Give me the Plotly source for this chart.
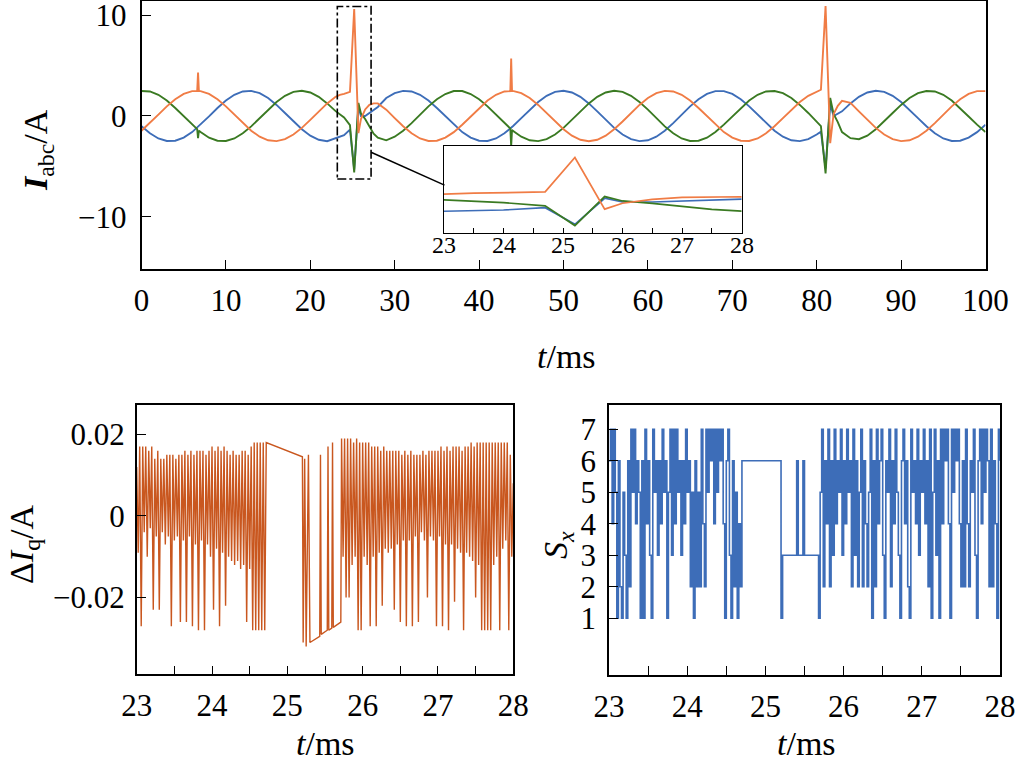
import numpy as np
import plotly.graph_objects as go

# ---------------- top panel: three-phase currents (A) ----------------
t_main = (list(range(0, 7)) + [6.6, 6.7, 6.8] + list(range(7, 24)) +
          [23.5, 24, 24.7, 25.2, 25.7, 26, 26.5, 27, 27.5, 28] +
          list(range(29, 44)) + [43.7, 43.8, 43.9] + list(range(44, 81)) +
          [80.5, 81.05, 81.6, 82, 82.5] + list(range(83, 101)))

i_orange = ([-1.46, -0.71, 0.13, 0.95, 1.66, 2.19, 2.46] +
            [2.48, 4.3, 2.47] +
            [2.46, 2.19, 1.66, 0.95, 0.13, -0.71, -1.46, -2.05, -2.41, -2.49, -2.30, -1.84, -1.18, -0.38, 0.46, 1.25, 1.9] +
            [2.1, 2.2, 2.4, 10.6, -1.7, -0.3, 0.65, 1.1, 1.25, 1.25] +
            [0.63, -0.21, -1.02, -1.72, -2.23, -2.48, -2.45, -2.14, -1.60, -0.87, -0.04, 0.79, 1.53, 2.10, 2.43] +
            [2.47, 5.7, 2.48] +
            [2.49, 2.26, 1.78, 1.10, 0.30, -0.55, -1.32, -1.95, -2.36, -2.50, -2.36, -1.95, -1.32, -0.55, 0.30, 1.10,
             1.78, 2.26, 2.49, 2.43, 2.10, 1.53, 0.79, -0.04, -0.87, -1.60, -2.14, -2.45, -2.48, -2.23, -1.72, -1.02,
             -0.21, 0.63, 1.39, 2.00, 2.39] +
            [2.6, 10.9, -2.7, 0.2, 1.0] +
            [1.5, 1.3, 0.46, -0.38, -1.18, -1.84, -2.30, -2.49, -2.41, -2.05, -1.46, -0.71, 0.13, 0.95, 1.66, 2.19, 2.46, 2.46])

i_blue = ([-1.02, -1.72, -2.23, -2.48, -2.45, -2.14, -1.60] +
          [-1.16, -1.08, -1.01] +
          [-0.87, -0.04, 0.79, 1.53, 2.10, 2.43, 2.49, 2.26, 1.78, 1.10, 0.30, -0.55, -1.32, -1.95, -2.36, -2.50, -2.2] +
          [-2.05, -1.9, -1.35, -5.3, 0.9, 0.0, 0.0, 0.3, 0.65, 0.9] +
          [1.78, 2.26, 2.49, 2.43, 2.10, 1.53, 0.79, -0.04, -0.87, -1.60, -2.14, -2.45, -2.48, -2.23, -1.72] +
          [-1.23, -1.16, -1.09] +
          [-1.02, -0.21, 0.63, 1.39, 2.00, 2.39, 2.50, 2.33, 1.90, 1.25, 0.46, -0.38, -1.18, -1.84, -2.30, -2.49,
           -2.41, -2.05, -1.46, -0.71, 0.13, 0.95, 1.66, 2.19, 2.46, 2.46, 2.19, 1.66, 0.95, 0.13, -0.71, -1.46,
           -2.05, -2.41, -2.49, -2.30, -1.84] +
          [-1.55, -5.2, 1.2, 0.0, 0.2] +
          [0.46, 1.25, 1.90, 2.33, 2.50, 2.39, 2.00, 1.39, 0.63, -0.21, -1.02, -1.72, -2.23, -2.48, -2.45, -2.14, -1.60, -0.87])

i_green = ([2.48, 2.43, 2.10, 1.53, 0.79, -0.05, -0.86] +
           [-1.30, -2.2, -1.45] +
           [-1.59, -2.15, -2.45, -2.48, -2.23, -1.72, -1.03, -0.21, 0.63, 1.39, 2.00, 2.39, 2.50, 2.33, 1.90, 1.25, 0.48] +
           [0.15, -0.15, -0.9, -5.6, 1.3, 0.25, -0.3, -1.1, -1.75, -2.15] +
           [-2.41, -2.05, -1.47, -0.71, 0.13, 0.95, 1.66, 2.18, 2.47, 2.47, 2.18, 1.66, 0.95, 0.13, -0.71] +
           [-1.24, -3.0, -1.38] +
           [-1.47, -2.05, -2.41, -2.49, -2.30, -1.84, -1.18, -0.38, 0.46, 1.25, 1.90, 2.33, 2.50, 2.39, 2.00, 1.39,
            0.63, -0.21, -1.03, -1.72, -2.23, -2.48, -2.45, -2.15, -1.59, -0.86, -0.05, 0.79, 1.53, 2.10, 2.43, 2.48,
            2.26, 1.78, 1.10, 0.30, -0.55] +
           [-1.0, -5.7, 1.8, 0.2, -0.6] +
           [-1.6, -2.2, -2.3, -1.95, -1.32, -0.55, 0.30, 1.10, 1.78, 2.26, 2.48, 2.43, 2.10, 1.53, 0.79, -0.05, -0.86, -1.59])

main_xticks = [0, 10, 20, 30, 40, 50, 60, 70, 80, 90, 100]
main_yticks = [-10, 0, 10]
main_yticktext = ["\u221210", "0", "10"]

# ---------------- bottom-left: delta Iq (A) ----------------
diq_a = [0.012, -0.009, 0.017, -0.027, 0.017, -0.004, 0.017, -0.010, 0.016, -0.003, 0.017, -0.023,
         0.014, -0.005, 0.016, -0.023, 0.014, -0.004, 0.014, -0.007, 0.015, -0.005, 0.015, -0.027,
         0.015, -0.006, 0.014, -0.005, 0.015, -0.026, 0.015, -0.006, 0.016, -0.026, 0.015, -0.005,
         0.016, -0.027, 0.015, -0.007, 0.016, -0.028, 0.016, -0.006, 0.016, -0.028, 0.015, -0.007,
         0.016, -0.010, 0.017, -0.023, 0.016, -0.008, 0.017, -0.027, 0.016, -0.009, 0.017, -0.022,
         0.016, -0.010, 0.015, -0.011, 0.016, -0.012, 0.015, -0.011, 0.015, -0.013, 0.016, -0.012,
         0.016, -0.026, 0.015, -0.013, 0.017, -0.028, 0.018, -0.028, 0.018, -0.028, 0.018, -0.028,
         0.018, -0.028]
diq_mid_t = [24.72, 25.20, 25.21, 25.23, 25.25, 25.28, 25.30, 25.43, 25.44, 25.45, 25.53, 25.54, 25.55,
             25.59, 25.60, 25.61, 25.71]
diq_mid = [0.018, 0.0145, -0.031, 0.014, -0.032, 0.015, -0.031, -0.0295, 0.015, -0.029, -0.028, 0.017,
           -0.028, -0.0275, 0.018, -0.0273, -0.026]
diq_c = [0.019, -0.010, 0.019, -0.020, 0.019, -0.020, 0.019, -0.012, 0.018, -0.010, 0.019, -0.028,
         0.018, -0.028, 0.018, -0.010, 0.018, -0.012, 0.018, -0.027, 0.017, -0.010, 0.017, -0.027,
         0.017, -0.009, 0.016, -0.022, 0.017, -0.008, 0.016, -0.009, 0.016, -0.008, 0.016, -0.023,
         0.016, -0.007, 0.016, -0.026, 0.015, -0.006, 0.016, -0.027, 0.015, -0.006, 0.016, -0.027,
         0.015, -0.005, 0.015, -0.026, 0.015, -0.004, 0.016, -0.006, 0.015, -0.020, 0.016, -0.005,
         0.016, -0.006, 0.016, -0.027, 0.016, -0.005, 0.017, -0.027, 0.016, -0.007, 0.017, -0.028,
         0.016, -0.007, 0.017, -0.021, 0.017, -0.008, 0.017, -0.009, 0.016, -0.028, 0.017, -0.009,
         0.017, -0.010, 0.018, -0.011, 0.017, -0.020, 0.018, -0.012, 0.018, -0.028, 0.018, -0.028,
         0.018, -0.028, 0.018, -0.028, 0.018, -0.012, 0.018, -0.010, 0.018, -0.028, 0.018, -0.008,
         0.018, -0.006, 0.018, -0.028, 0.015, -0.010, 0.008]

# ---------------- bottom-right: switching state Sx ----------------
sx_a = [6, 7, 4, 7, 5, 1, 6, 2, 1, 5, 3, 1, 6, 2, 7, 5, 7, 4, 6, 5,
        1, 6, 1, 7, 4, 6, 3, 1, 7, 5, 6, 3, 6, 4, 7, 5, 6, 1, 5, 7,
        3, 7, 4, 7, 5, 6, 3, 6, 4, 7, 5, 6, 2, 5, 1, 6, 2, 5, 2, 7,
        4, 2, 7, 5, 7, 6, 7, 4, 7, 5, 7, 6, 7, 4, 1, 6, 7, 3, 1, 6,
        2, 5, 1, 4, 2]
sx_mid_t = [24.70, 25.20, 25.22, 25.40, 25.42, 25.48, 25.50, 25.68]
sx_mid = [6, 1, 3, 6, 3, 6, 3, 1]
sx_c = [5, 7, 2, 6, 4, 7, 2, 6, 3, 7, 4, 6, 5, 7, 3, 6, 4, 7, 5, 6,
        2, 7, 3, 6, 2, 5, 7, 2, 6, 4, 2, 5, 7, 1, 6, 2, 7, 4, 6, 7,
        3, 1, 6, 5, 7, 2, 6, 4, 7, 5, 3, 1, 6, 7, 4, 6, 2, 1, 7, 5,
        6, 4, 7, 3, 6, 5, 7, 4, 6, 2, 7, 1, 5, 7, 3, 6, 1, 7, 4, 7,
        6, 7, 4, 1, 7, 5, 7, 6, 7, 4, 2, 6, 2, 7, 4, 2, 6, 5, 7, 3,
        1, 6, 7, 4, 7, 5, 7, 6, 2, 7, 2, 6, 4, 1, 7, 6]

zoom_ticks = [23, 23.5, 24, 24.5, 25, 25.5, 26, 26.5, 27, 27.5, 28]
zoom_ticktext = ["23", "", "24", "", "25", "", "26", "", "27", "", "28"]
inset_labels = [23, 24, 25, 26, 27, 28]

# sample clocks (20 us sampling)
dt = 0.02
diq_t = (list(np.round(23.0 + dt * np.arange(len(diq_a)), 3)) + diq_mid_t +
         list(np.round(25.72 + dt * np.arange(len(diq_c)), 3)))
diq_v = diq_a + diq_mid + diq_c
sx_t = (list(np.round(23.0 + dt * np.arange(len(sx_a)), 3)) + sx_mid_t +
        list(np.round(25.70 + dt * np.arange(len(sx_c)), 3)))
sx_v = sx_a + sx_mid + sx_c

# ---------------- styling ----------------
FONT = "Liberation Serif"
C_OR, C_BL, C_GR = "#F07C45", "#3D6DB8", "#3A7A22"
C_DIQ, C_SX = "#C9571F", "#3D6DB8"
W, H = 1016, 759
TICK = 31


def px_x(p):
    return p / W


def px_y(p):
    return 1 - p / H


fig = go.Figure()

for vals, col in [(i_blue, C_BL), (i_green, C_GR), (i_orange, C_OR)]:
    fig.add_trace(go.Scatter(x=t_main, y=vals, mode="lines", line=dict(color=col, width=1.9),
                             xaxis="x", yaxis="y", showlegend=False, hoverinfo="skip"))

INSET_Y = [-7.3, 13.4]
fig.add_trace(go.Scatter(x=[23, 28, 28, 23, 23], y=[INSET_Y[0], INSET_Y[0], INSET_Y[1], INSET_Y[1], INSET_Y[0]],
                         mode="lines", fill="toself", fillcolor="white", line=dict(width=0),
                         xaxis="x2", yaxis="y2", showlegend=False, hoverinfo="skip"))
for vals, col in [(i_blue, C_BL), (i_green, C_GR), (i_orange, C_OR)]:
    fig.add_trace(go.Scatter(x=t_main, y=vals, mode="lines", line=dict(color=col, width=1.7),
                             xaxis="x2", yaxis="y2", showlegend=False, hoverinfo="skip"))

fig.add_trace(go.Scatter(x=diq_t, y=diq_v, mode="lines", line=dict(color=C_DIQ, width=1.4),
                         xaxis="x3", yaxis="y3", showlegend=False, hoverinfo="skip"))
fig.add_trace(go.Scatter(x=sx_t, y=sx_v, mode="lines", line=dict(color=C_SX, width=1.6, shape="hv"),
                         xaxis="x4", yaxis="y4", showlegend=False, hoverinfo="skip"))

axis_common = dict(showline=True, mirror=True, linecolor="black", linewidth=1.6, showgrid=False,
                   zeroline=False, ticks="inside", tickcolor="black", tickwidth=1.4, automargin=False,
                   ticklabeloverflow="allow")

fig.update_layout(
    width=W, height=H, margin=dict(l=0, r=0, t=0, b=0, autoexpand=False),
    paper_bgcolor="white", plot_bgcolor="white",
    font=dict(family=FONT, color="black"),
    xaxis=dict(axis_common, domain=[px_x(141.5), px_x(985.5)], range=[0, 100], tickvals=main_xticks,
               ticklen=10, tickfont=dict(size=TICK), ticklabelstandoff=3, anchor="y"),
    yaxis=dict(axis_common, domain=[px_y(269.3), px_y(1)], range=[-15.2, 11.4], tickvals=main_yticks,
               ticktext=main_yticktext, ticklen=10, tickfont=dict(size=TICK), ticklabelstandoff=7, anchor="x"),
    xaxis2=dict(axis_common, domain=[px_x(444), px_x(741.5)], range=[23, 28], tickvals=zoom_ticks,
                ticklen=5, tickwidth=1.2, linewidth=1.4, showticklabels=False, anchor="y2"),
    yaxis2=dict(axis_common, domain=[px_y(232.7), px_y(145.7)], range=INSET_Y, ticks="", linewidth=1.4,
                showticklabels=False, anchor="x2"),
    xaxis3=dict(axis_common, domain=[px_x(136.7), px_x(513.3)], range=[23, 28], tickvals=zoom_ticks,
                ticktext=zoom_ticktext, ticklen=9, tickfont=dict(size=TICK), ticklabelstandoff=3, anchor="y3"),
    yaxis3=dict(axis_common, domain=[px_y(674.3), px_y(405)], range=[-0.0388, 0.0272],
                tickvals=[-0.02, 0, 0.02], ticktext=["\u22120.02", "0", "0.02"], ticklen=9,
                tickfont=dict(size=TICK), ticklabelstandoff=4, anchor="x3"),
    xaxis4=dict(axis_common, domain=[px_x(609), px_x(1000)], range=[23, 28], tickvals=zoom_ticks,
                ticktext=zoom_ticktext, ticklen=9, tickfont=dict(size=TICK), ticklabelstandoff=3, anchor="y4"),
    yaxis4=dict(axis_common, domain=[px_y(675), px_y(405)], range=[-0.8, 7.77],
                tickvals=[1, 2, 3, 4, 5, 6, 7], ticklen=9, tickfont=dict(size=TICK), ticklabelstandoff=5,
                anchor="x4"),
)

# inset tick labels (placed just under the inset frame)
for v in inset_labels:
    fig.add_annotation(x=v, xref="x2", y=px_y(245), yref="paper", text=str(v), showarrow=False,
                       xanchor="center", yanchor="middle", font=dict(family=FONT, size=24, color="black"))

fig.add_shape(type="rect", xref="x", yref="y", x0=23.2, x1=27.2, y0=-6.25, y1=10.85,
              line=dict(color="black", width=1.6, dash="dashdot"), layer="above")
fig.add_shape(type="line", xref="x", yref="y", x0=27.2, y0=-3.6, x1=35.9, y1=-6.85,
              line=dict(color="black", width=1.5), layer="above")

ann_font = dict(family=FONT, size=34, color="black")
ann = dict(xref="paper", yref="paper", showarrow=False, xanchor="center", yanchor="middle", font=ann_font)
fig.add_annotation(x=px_x(566), y=px_y(356), text="<i>t</i>/ms", **ann)
fig.add_annotation(x=px_x(325), y=px_y(743), text="<i>t</i>/ms", **ann)
fig.add_annotation(x=px_x(806), y=px_y(743), text="<i>t</i>/ms", **ann)
fig.add_annotation(x=px_x(38), y=px_y(150), text="<b><i>I</i></b><sub>abc</sub>/A", textangle=-90, **ann)
fig.add_annotation(x=px_x(24), y=px_y(544), text="\u0394<i>I</i><sub>q</sub>/A", textangle=-90, **ann)
fig.add_annotation(x=px_x(558), y=px_y(545), text="<i>S</i><sub><i>x</i></sub>", textangle=-90, **ann)

fig.write_html("out.html", config={"displayModeBar": False},
               post_script="document.body.style.margin='0';")
